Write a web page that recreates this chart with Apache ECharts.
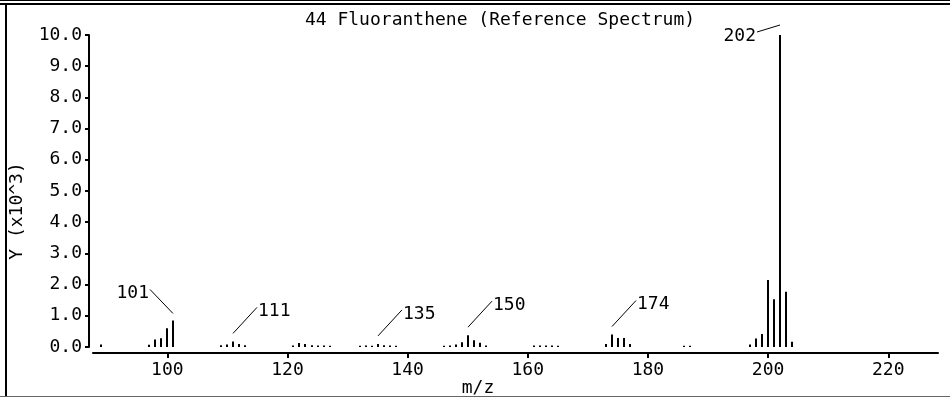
<!DOCTYPE html>
<html>
<head>
<meta charset="utf-8">
<title>44 Fluoranthene (Reference Spectrum)</title>
<script src="https://cdn.jsdelivr.net/npm/echarts@6/dist/echarts.min.js"></script>
<style>
html, body { margin: 0; padding: 0; background: #fff; }
#chart { width: 950px; height: 397px; }
</style>
</head>
<body>
<div id="chart"></div>
<script>
// m/z of each peak and its abundance (units of 10^3)
var mz = [89, 97, 98, 99, 100, 101, 109, 110, 111, 112, 113,
	121, 122, 123, 124, 125, 126, 127, 132, 133, 134, 135, 136, 137, 138,
	146, 147, 148, 149, 150, 151, 152, 153, 161, 162, 163, 164, 165,
	173, 174, 175, 176, 177, 186, 187, 197, 198, 199, 200, 201, 202, 203, 204];
var abundance = [0.08, 0.07, 0.24, 0.28, 0.6, 0.85, 0.06, 0.08, 0.18, 0.1, 0.06,
	0.05, 0.13, 0.1, 0.06, 0.05, 0.05, 0.04, 0.04, 0.05, 0.04, 0.1, 0.06, 0.05, 0.04,
	0.04, 0.05, 0.08, 0.15, 0.38, 0.22, 0.14, 0.05, 0.05, 0.05, 0.05, 0.05, 0.04,
	0.1, 0.4, 0.29, 0.29, 0.1, 0.04, 0.04, 0.08, 0.27, 0.42, 2.15, 1.53, 10.0, 1.77, 0.17];
var labeledMz = [101, 111, 135, 150, 174, 202];
var xTicks = [100, 120, 140, 160, 180, 200, 220];

var FONT = 'DejaVu Sans Mono';

var peaks = mz.map(function (m, i) {
	return [m, abundance[i]];
});
var labels = labeledMz.map(function (m) {
	return [m, abundance[mz.indexOf(m)]];
});

// leader line geometry (pixels, relative to the top of the peak)
function leader(m) {
	if (m === 202) return { sy: -10, ex: -23, ey: 7, align: 'right' };
	if (m === 101) return { sy: -7, ex: -23, ey: -24, align: 'right' };
	return { sy: -8, ex: 24, ey: -26, align: 'left' };
}

var chart = echarts.init(document.getElementById('chart'));

var option = {
	animation: false,
	backgroundColor: '#fff',
	title: {
		text: '44 Fluoranthene (Reference Spectrum)',
		left: 500,
		top: 11,
		textAlign: 'center',
		padding: 0,
		textStyle: {
			fontFamily: FONT,
			fontSize: 18,
			fontWeight: 'normal',
			color: '#000'
		}
	},
	grid: {
		left: 93,
		right: 12,
		top: 35,
		bottom: 50,
		outerBoundsMode: 'none',
		containLabel: false
	},
	xAxis: {
		type: 'value',
		min: 87.63,
		max: 228.28,
		offset: 6,
		name: 'm/z',
		nameLocation: 'middle',
		nameGap: 26,
		nameMoveOverlap: false,
		nameTextStyle: {
			fontFamily: FONT,
			fontSize: 18,
			color: '#000',
			padding: [0, 75, 0, 0]
		},
		axisLine: {
			onZero: false,
			lineStyle: { color: '#000', width: 2 }
		},
		axisTick: {
			customValues: xTicks,
			length: 5,
			lineStyle: { color: '#000', width: 2 }
		},
		axisLabel: {
			customValues: xTicks,
			margin: 8,
			fontFamily: FONT,
			fontSize: 18,
			color: '#000'
		},
		splitLine: { show: false }
	},
	yAxis: {
		type: 'value',
		min: 0,
		max: 10,
		interval: 1,
		offset: 4,
		name: 'Y (x10^3)',
		nameLocation: 'middle',
		nameRotate: 90,
		nameGap: 63,
		nameMoveOverlap: false,
		nameTextStyle: {
			fontFamily: FONT,
			fontSize: 18,
			color: '#000',
			padding: [0, 40, 0, 0]
		},
		axisLine: {
			show: true,
			onZero: false,
			lineStyle: { color: '#000', width: 2 }
		},
		axisTick: {
			show: true,
			length: 4,
			lineStyle: { color: '#000', width: 2 }
		},
		axisLabel: {
			margin: 7,
			fontFamily: FONT,
			fontSize: 18,
			color: '#000',
			formatter: function (v) {
				return v.toFixed(1);
			}
		},
		splitLine: { show: false }
	},
	graphic: [
		{ type: 'rect', silent: true, shape: { x: 0, y: 0, width: 950, height: 1 }, style: { fill: '#000' } },
		{ type: 'rect', silent: true, shape: { x: 0, y: 3, width: 950, height: 2 }, style: { fill: '#000' } },
		{ type: 'rect', silent: true, shape: { x: 5, y: 5, width: 2, height: 392 }, style: { fill: '#000' } },
		{ type: 'rect', silent: true, shape: { x: 0, y: 396, width: 950, height: 1 }, style: { fill: '#666' } }
	],
	series: [{
		name: 'peaks',
		type: 'custom',
		clip: false,
		data: peaks,
		renderItem: function (params, api) {
			var base = api.coord([api.value(0), 0]);
			var top = api.coord([api.value(0), api.value(1)]);
			var x = Math.round(base[0]);
			return {
				type: 'line',
				shape: { x1: x, y1: base[1], x2: x, y2: Math.min(top[1], base[1] - 1) },
				style: { stroke: '#000', lineWidth: 2 }
			};
		}
	}, {
		name: 'labels',
		type: 'custom',
		clip: false,
		silent: true,
		data: labels,
		renderItem: function (params, api) {
			var m = api.value(0);
			var top = api.coord([m, api.value(1)]);
			var x = Math.round(top[0]);
			var g = leader(m);
			var x1 = x, y1 = top[1] + g.sy;
			var x2 = x + g.ex, y2 = y1 + g.ey;
			return {
				type: 'group',
				children: [{
					type: 'line',
					shape: { x1: x1, y1: y1, x2: x2, y2: y2 },
					style: { stroke: '#000', lineWidth: 1 }
				}, {
					type: 'text',
					style: {
						text: String(m),
						x: g.align === 'left' ? x2 + 1 : x2 - 1,
						y: y2 + 4,
						align: g.align,
						verticalAlign: 'middle',
						fontFamily: FONT,
						fontSize: 18,
						fill: '#000'
					}
				}]
			};
		}
	}]
};

chart.setOption(option);
</script>
</body>
</html>
